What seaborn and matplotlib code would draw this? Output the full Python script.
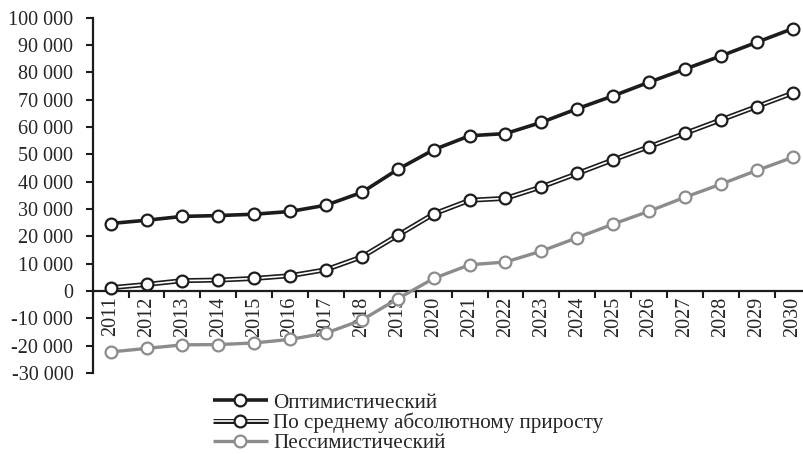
import matplotlib
matplotlib.use("Agg")
import matplotlib.pyplot as plt
import seaborn as sns
import pandas as pd
from matplotlib.lines import Line2D
from matplotlib.legend_handler import HandlerBase
from matplotlib.ticker import FuncFormatter, MultipleLocator, FixedLocator

years = list(range(2011, 2031))
optimistic = [24700, 25900, 27300, 27600, 28100, 29100, 31400, 36100, 44500, 51700,
              56800, 57600, 61700, 66700, 71400, 76400, 81200, 86000, 91000, 96000]
average = [1200, 2400, 3800, 4000, 4600, 5600, 7800, 12500, 20400, 28200,
           33200, 33900, 38100, 43000, 48000, 52800, 57700, 62600, 67500, 72400]
pessimistic = [-22300, -21000, -19700, -19600, -19000, -17700, -15400, -10600, -2800, 4600,
               9600, 10600, 14600, 19500, 24500, 29200, 34300, 39100, 44100, 48900]
labels = ["Оптимистический", "По среднему абсолютному приросту", "Пессимистический"]

sns.set_theme(style="white")
plt.rcParams['font.family'] = ['Liberation Serif', 'DejaVu Serif']
FS = 14.5
FS_LEG = 15.2

df = pd.DataFrame({"year": years, "opt": optimistic, "avg": average, "pes": pessimistic})

fig = plt.figure(figsize=(8.04, 4.54), dpi=100)
ax = fig.add_axes([92.7/804, 1 - 373/454, (810.6 - 92.7)/804, (373 - 17.7)/454])

DARK = "#1c1c1c"
GRAY = "#8c8c8c"
MS = 8.5
MEW = 1.6
LW_MAIN = 2.6
LW_OUT = 3.6
LW_IN = 1.2

# Pessimistic
sns.lineplot(data=df, x="year", y="pes", ax=ax, color=GRAY, lw=2.4, marker="o",
             markersize=MS, markerfacecolor="white", markeredgecolor=GRAY,
             markeredgewidth=MEW, zorder=3)
# Average (double line)
sns.lineplot(data=df, x="year", y="avg", ax=ax, color=DARK, lw=LW_OUT, zorder=4)
sns.lineplot(data=df, x="year", y="avg", ax=ax, color="white", lw=LW_IN, marker="o",
             markersize=MS, markerfacecolor="white", markeredgecolor=DARK,
             markeredgewidth=MEW, zorder=5)
# Optimistic
sns.lineplot(data=df, x="year", y="opt", ax=ax, color=DARK, lw=LW_MAIN, marker="o",
             markersize=MS, markerfacecolor="white", markeredgecolor=DARK,
             markeredgewidth=MEW, zorder=6)

ax.set_xlim(2010.5, 2030.5)
ax.set_ylim(-30000, 100000)
ax.set_xlabel("")
ax.set_ylabel("")

for s in ["top", "right"]:
    ax.spines[s].set_visible(False)
ax.spines["bottom"].set_position(("data", 0))
for s in ["left", "bottom"]:
    ax.spines[s].set_color(DARK)
    ax.spines[s].set_linewidth(1.6)

ax.yaxis.set_major_locator(MultipleLocator(10000))
ax.yaxis.set_major_formatter(FuncFormatter(
    lambda v, p: f"{int(round(v)):,}".replace(",", " ")))
ax.tick_params(axis="y", which="major", direction="out", length=5, width=1.5,
               color=DARK, labelsize=FS, pad=9, left=True)

ax.set_xticks(years)
ax.set_xticklabels([str(y) for y in years], rotation=90, fontsize=FS, va="top")
ax.xaxis.set_minor_locator(FixedLocator([y + 0.5 for y in years[:-1]] + [2010.5, 2030.5]))
ax.tick_params(axis="x", which="major", length=0, pad=4, bottom=True)
ax.tick_params(axis="x", which="minor", direction="out", length=5, width=1.5,
               color=DARK, bottom=True)
ax.grid(False)


class SeriesHandler(HandlerBase):
    def create_artists(self, legend, orig_handle, xdescent, ydescent, width, height,
                       fontsize, trans):
        kind, color = orig_handle
        y = height / 2 - ydescent
        x0, x1 = -xdescent, width - xdescent
        arts = []
        if kind == "double":
            arts.append(Line2D([x0, x1], [y, y], color=DARK, lw=LW_OUT,
                               solid_capstyle="butt"))
            arts.append(Line2D([x0, x1], [y, y], color="white", lw=LW_IN,
                               solid_capstyle="butt"))
        else:
            arts.append(Line2D([x0, x1], [y, y], color=color, lw=kind,
                               solid_capstyle="butt"))
        arts.append(Line2D([(x0 + x1) / 2], [y], ls="", marker="o", markersize=MS,
                           markerfacecolor="white", markeredgecolor=color,
                           markeredgewidth=MEW))
        for a in arts:
            a.set_transform(trans)
        return arts


class H:
    def __init__(self, kind, color):
        self.kind, self.color = kind, color

    def __iter__(self):
        return iter((self.kind, self.color))


handles = [H(LW_MAIN, DARK), H("double", DARK), H(2.4, GRAY)]
fig.legend(handles, labels, handler_map={H: SeriesHandler()},
           loc="upper left", bbox_to_anchor=(196/804, 1 - 376/454),
           frameon=False, fontsize=FS_LEG, handlelength=2.6, handletextpad=0.25,
           labelspacing=0.0, borderpad=0.3)

fig.savefig("out.png", dpi=100)
